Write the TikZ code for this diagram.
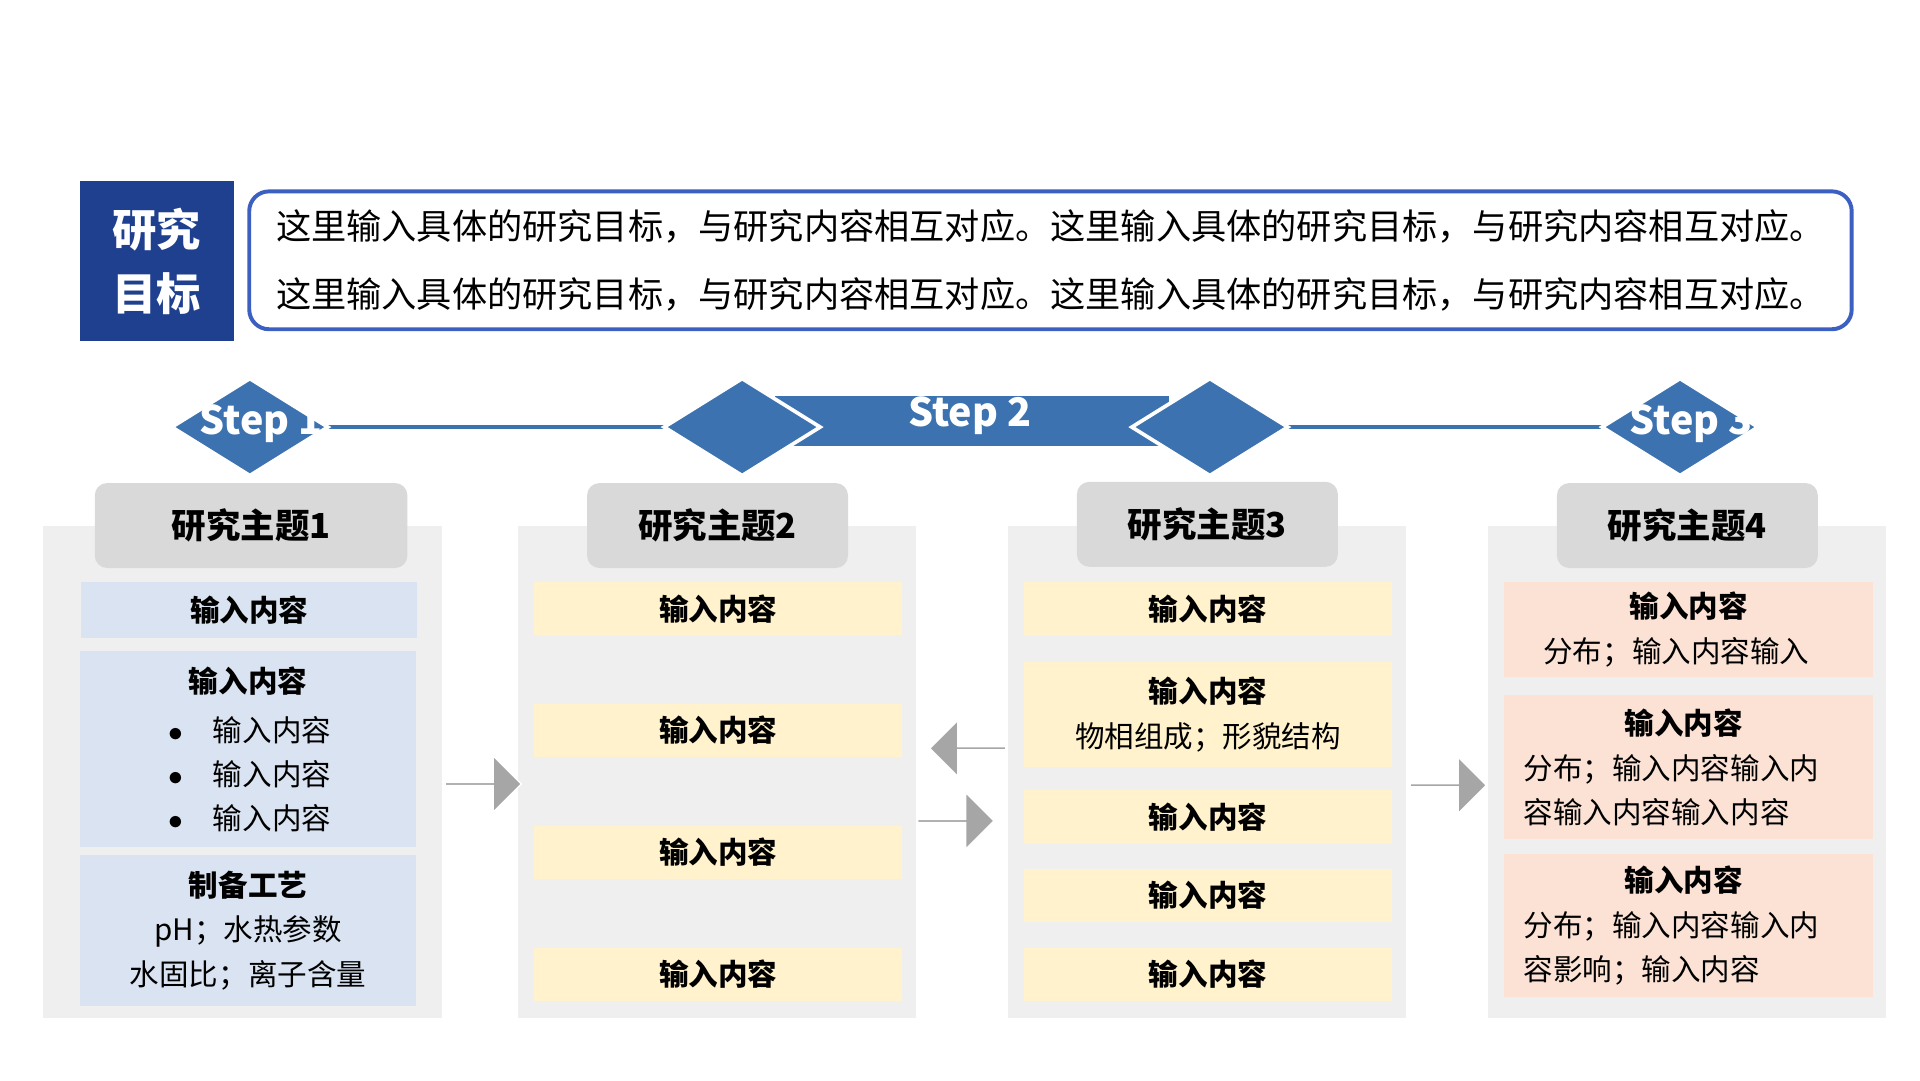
\documentclass[tikz,border=0pt]{standalone}
\usepackage{fontspec}
\setmainfont{Noto Sans CJK SC}
\usetikzlibrary{shapes.geometric,shapes.arrows}
\definecolor{navy}{HTML}{1F3F8F}
\definecolor{frame}{HTML}{3C5FC2}
\definecolor{stepb}{HTML}{3D72B0}
\definecolor{panel}{HTML}{EFEFEF}
\definecolor{head}{HTML}{D9D9D9}
\definecolor{bluei}{HTML}{DAE3F1}
\definecolor{yel}{HTML}{FFF2CC}
\definecolor{pink}{HTML}{FBE2D5}
\definecolor{arr}{HTML}{A6A6A6}
\begin{document}
\begin{tikzpicture}[x=0.5pt,y=-0.5pt,
 pan/.style={fill=panel,draw=none},
 hd/.style={fill=head,rounded corners=5pt,draw=none},
 ht/.style={font=\fontsize{14}{16}\selectfont\bfseries},
 it/.style={font=\fontsize{12}{18}\selectfont,align=center},
 dia/.style={diamond,fill=stepb,draw=white,line width=1.5pt,minimum width=64pt,minimum height=40pt,inner sep=0pt},
 sarrow/.style={single arrow,fill=arr,draw=white,line width=0.6pt,minimum height=31pt,minimum width=23pt,single arrow head extend=5pt,inner sep=0pt,single arrow tip angle=90}]
\fill[white] (0,0) rectangle (1560,878);
\node[fill=navy,minimum width=62.5pt,minimum height=65pt,text=white,font=\fontsize{18}{26}\selectfont\bfseries,align=center,inner sep=0pt] (goal) at (127.5,212) {研究\\目标};
\node[draw=frame,line width=1.6pt,rounded corners=8pt,minimum width=651pt,minimum height=56pt,inner sep=0pt] (gbox) at (853.5,211.5) {};
\node[font=\fontsize{14.3}{27.5}\selectfont,align=left] (gt) at (gbox.center) {这里输入具体的研究目标，与研究内容相互对应。这里输入具体的研究目标，与研究内容相互对应。\\这里输入具体的研究目标，与研究内容相互对应。这里输入具体的研究目标，与研究内容相互对应。};
% step line
\coordinate (l1) at (250,347); \coordinate (l2) at (1310,347);
\draw[stepb,line width=1.5pt] (l1) -- (l2);
\node[fill=stepb,minimum width=160pt,minimum height=20pt,inner sep=0pt] (ban) at (790,342) {};
\node[dia] (d1) at (203,347) {};
\node[dia] (d2) at (603,347) {};
\node[dia] (d3) at (983,347) {};
\node[dia] (d4) at (1365,347) {};
\node[text=white,font=\fontsize{16}{18}\selectfont\bfseries] (s1) at (212,344) {Step 1};
\node[text=white,font=\fontsize{16}{18}\selectfont\bfseries] (s2) at (788,338) {Step 2};
\node[text=white,font=\fontsize{16}{18}\selectfont\bfseries] (s3) at (1374,344) {Step 3};
% panels
\fill[panel] (35,427) rectangle (359,827);
\fill[panel] (421,427) rectangle (744,827);
\fill[panel] (819,427) rectangle (1142,827);
\fill[panel] (1209,427) rectangle (1532,827);
\node[hd,minimum width=127pt,minimum height=34.5pt,ht] (h1) at (204,427) {研究主题1};
\node[hd,minimum width=106pt,minimum height=34.5pt,ht] (h2) at (583,427) {研究主题2};
\node[hd,minimum width=106pt,minimum height=34.5pt,ht] (h3) at (981,426) {研究主题3};
\node[hd,minimum width=106pt,minimum height=34.5pt,ht] (h4) at (1371,427) {研究主题4};
\tikzset{bx/.style={minimum width=136.5pt,inner sep=0pt,it},
 yx/.style={fill=yel,minimum width=149.5pt,minimum height=21.5pt,inner sep=0pt,it},
 px/.style={fill=pink,minimum width=150pt,inner sep=0pt,it}}
% col1
\node[bx,fill=bluei,minimum height=22.5pt] (a1) at (202.5,495.5) {\bfseries 输入内容};
\node[bx,fill=bluei,minimum height=79.5pt] (a2) at (201.5,608.5) {};
\node[it] (a2t) at (201.5,553) {\bfseries 输入内容};
\node[it,align=left] (a2b) at (203,629) {$\bullet$\quad 输入内容\\$\bullet$\quad 输入内容\\$\bullet$\quad 输入内容};
\node[bx,fill=bluei,minimum height=61pt,align=center] (a3) at (201.5,756) {\bfseries 制备工艺\\pH；水热参数\\水固比；离子含量};
% col2
\node[yx] (b1) at (583.5,494.5) {\bfseries 输入内容};
\node[yx] (b2) at (583.5,593.5) {\bfseries 输入内容};
\node[yx] (b3) at (583.5,692.5) {\bfseries 输入内容};
\node[yx] (b4) at (583.5,791.5) {\bfseries 输入内容};
% col3
\node[yx] (c1) at (981.5,494.5) {\bfseries 输入内容};
\node[yx,minimum height=42.5pt] (c2) at (981.5,580.5) {\bfseries 输入内容\\物相组成；形貌结构};
\node[yx] (c3) at (981.5,663.5) {\bfseries 输入内容};
\node[yx] (c4) at (981.5,727.5) {\bfseries 输入内容};
\node[yx] (c5) at (981.5,791.5) {\bfseries 输入内容};
% col4
\node[px,minimum height=38.5pt] (e1) at (1372,511.5) {};
\node[it,align=left] at (1372,511.5) {\makebox[118pt]{\bfseries 输入内容}\\分布；输入内容输入};
\node[px,minimum height=58.5pt] (e2) at (1372,623.5) {};
\node[it,align=left] at (1368,623.5) {\makebox[130pt]{\bfseries 输入内容}\\分布；输入内容输入内\\容输入内容输入内容};
\node[px,minimum height=58pt] (e3) at (1372,752) {};
\node[it,align=left] at (1368,752) {\makebox[130pt]{\bfseries 输入内容}\\分布；输入内容输入内\\容影响；输入内容};
% arrows
\node[sarrow] (r1) at (392,637) {};
\node[sarrow] (r2) at (776,667) {};
\node[sarrow,shape border rotate=180] (r3) at (787,608) {};
\node[sarrow] (r4) at (1176,638) {};
\end{tikzpicture}
\end{document}
